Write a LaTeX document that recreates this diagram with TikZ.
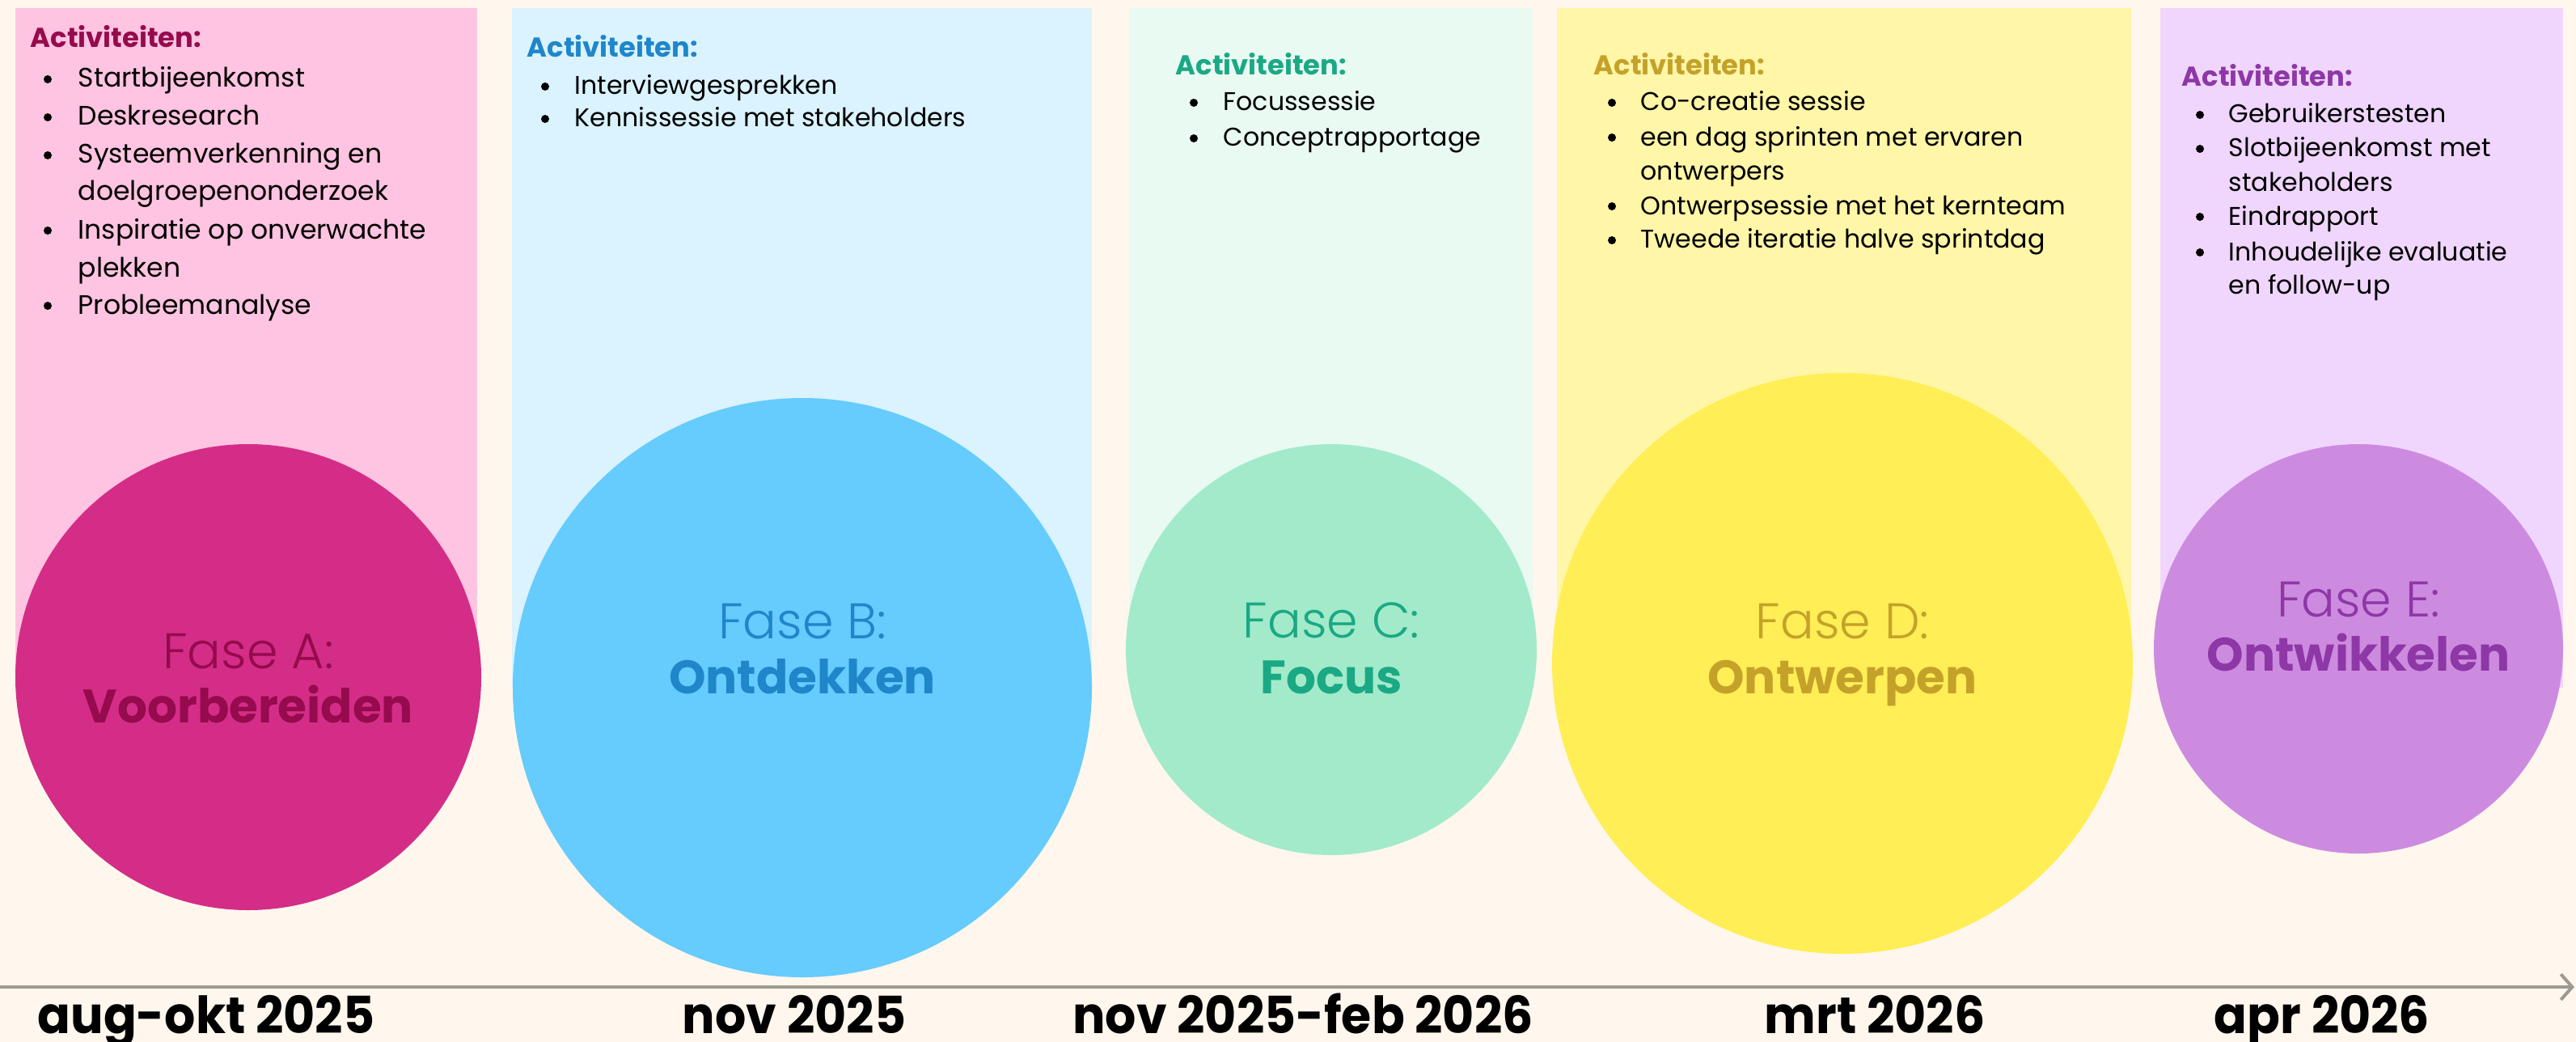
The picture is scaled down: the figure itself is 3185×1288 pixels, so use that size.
\documentclass[tikz,border=0pt]{standalone}
\usepackage{fontspec}
\setmainfont{Poppins}
\newfontfamily\FaseFont{Poppins Light}
\newfontfamily\DateFont[FakeStretch=0.95]{Poppins}
\usetikzlibrary{arrows.meta}
\definecolor{BgClr}{HTML}{FFF7ED}
\definecolor{AxisClr}{HTML}{9D9A93}
\definecolor{PanelA}{HTML}{FFC4E1}
\definecolor{CircA}{HTML}{D42D87}
\definecolor{TextA}{HTML}{960A4E}
\definecolor{PanelB}{HTML}{DAF3FE}
\definecolor{CircB}{HTML}{66CBFD}
\definecolor{TextB}{HTML}{1F86C9}
\definecolor{PanelC}{HTML}{E9FAF3}
\definecolor{CircC}{HTML}{A3EACB}
\definecolor{TextC}{HTML}{1AA984}
\definecolor{PanelD}{HTML}{FFF6A7}
\definecolor{CircD}{HTML}{FFEE55}
\definecolor{TextD}{HTML}{C4A22A}
\definecolor{PanelE}{HTML}{F0D6FD}
\definecolor{CircE}{HTML}{CD8BE0}
\definecolor{TextE}{HTML}{8D38A6}

\tikzset{
  Kop/.style={anchor=base west,inner sep=0pt,font=\fontsize{9.6}{12}\selectfont\bfseries},
  Regel/.style={anchor=base west,inner sep=0pt,font=\fontsize{9}{12}\selectfont},
  FaseTxt/.style={anchor=base,inner sep=0pt,font=\FaseFont\fontsize{17.6}{20}\selectfont},
  FaseNaam/.style={anchor=base,inner sep=0pt,font=\fontsize{16.5}{20}\selectfont\bfseries},
  Datum/.style={anchor=base,inner sep=0pt,font=\DateFont\bfseries\fontsize{18}{20}\selectfont}
}

\begin{document}
\begin{tikzpicture}[x=0.01cm,y=-0.01cm]
\fill[BgClr] (0,0) rectangle (3185,1288);
\useasboundingbox (0,0) rectangle (3185,1288);

% panels
\fill[PanelA] (19,10) rectangle (590,850);
\fill[PanelB] (633,10) rectangle (1350,850);
\fill[PanelC] (1396,10) rectangle (1895,850);
\fill[PanelD] (1925,10) rectangle (2635,850);
\fill[PanelE] (2671,10) rectangle (3169,850);

% circles
\fill[CircA] (307,837) circle (288);
\fill[CircB] (992,850) circle (358);
\fill[CircC] (1646,803) circle (254);
\fill[CircD] (2278,820) circle (359);
\fill[CircE] (2916,802) circle (253);

% fase A
\node[Kop,TextA] (kopA) at (37,59) {Activiteiten:};
\foreach \y/\t in {108/Startbijeenkomst,155/Deskresearch,202/Systeemverkenning en,248/doelgroepenonderzoek,295/Inspiratie op onverwachte,342/plekken,388/Probleemanalyse}
  \node[Regel,font=\fontsize{9.4}{12}\selectfont] (regA\y) at (96,\y) {\t};
\foreach \y in {108,155,202,295,388}
  \fill (59,\y-10) circle (5);
\node[FaseTxt,TextA] (faseA) at (307,826) {Fase A:};
\node[FaseNaam,TextA] (naamA) at (307,893) {Voorbereiden};

% fase B
\node[Kop,TextB] (kopB) at (651,71) {Activiteiten:};
\foreach \y/\t in {117/Interviewgesprekken,157/Kennissessie met stakeholders}
  \node[Regel] (regB\y) at (710,\y) {\t};
\foreach \y in {117,157}
  \fill (674,\y-10) circle (5);
\node[FaseTxt,TextB] (faseB) at (992,789) {Fase B:};
\node[FaseNaam,TextB] (naamB) at (992,857) {Ontdekken};

% fase C
\node[Kop,TextC] (kopC) at (1453,93) {Activiteiten:};
\foreach \y/\t in {137/Focussessie,181/Conceptrapportage}
  \node[Regel] (regC\y) at (1512,\y) {\t};
\foreach \y in {137,181}
  \fill (1476,\y-10) circle (5);
\node[FaseTxt,TextC] (faseC) at (1646,788) {Fase C:};
\node[FaseNaam,TextC] (naamC) at (1646,857) {Focus};

% fase D
\node[Kop,TextD] (kopD) at (1970,93) {Activiteiten:};
\foreach \y/\t in {137/Co-creatie sessie,180/een dag sprinten met ervaren,222/ontwerpers,265/Ontwerpsessie met het kernteam,307/Tweede iteratie halve sprintdag}
  \node[Regel] (regD\y) at (2028,\y) {\t};
\foreach \y in {137,180,265,307}
  \fill (1993,\y-10) circle (5);
\node[FaseTxt,TextD] (faseD) at (2278,789) {Fase D:};
\node[FaseNaam,TextD] (naamD) at (2278,857) {Ontwerpen};

% fase E
\node[Kop,TextE] (kopE) at (2697,107) {Activiteiten:};
\foreach \y/\t in {152/Gebruikerstesten,194/Slotbijeenkomst met,237/stakeholders,278/Eindrapport,322/Inhoudelijke evaluatie,363/en follow-up}
  \node[Regel] (regE\y) at (2755,\y) {\t};
\foreach \y in {152,194,278,322}
  \fill (2720,\y-10) circle (5);
\node[FaseTxt,TextE] (faseE) at (2916,762) {Fase E:};
\node[FaseNaam,TextE] (naamE) at (2916,829) {Ontwikkelen};

% tijdlijn
\coordinate (asL) at (0,1220);
\coordinate (asR) at (3183,1220);
\draw[AxisClr,line width=1.15pt,-{Straight Barb[length=4pt,width=9pt]}] (asL) -- (asR);

\node[Datum] (datA) at (255,1277) {aug-okt 2025};
\node[Datum] (datB) at (982,1277) {nov 2025};
\node[Datum] (datC) at (1611,1277) {nov 2025-feb 2026};
\node[Datum] (datD) at (2318,1277) {mrt 2026};
\node[Datum] (datE) at (2871,1277) {apr 2026};

\end{tikzpicture}
\end{document}
